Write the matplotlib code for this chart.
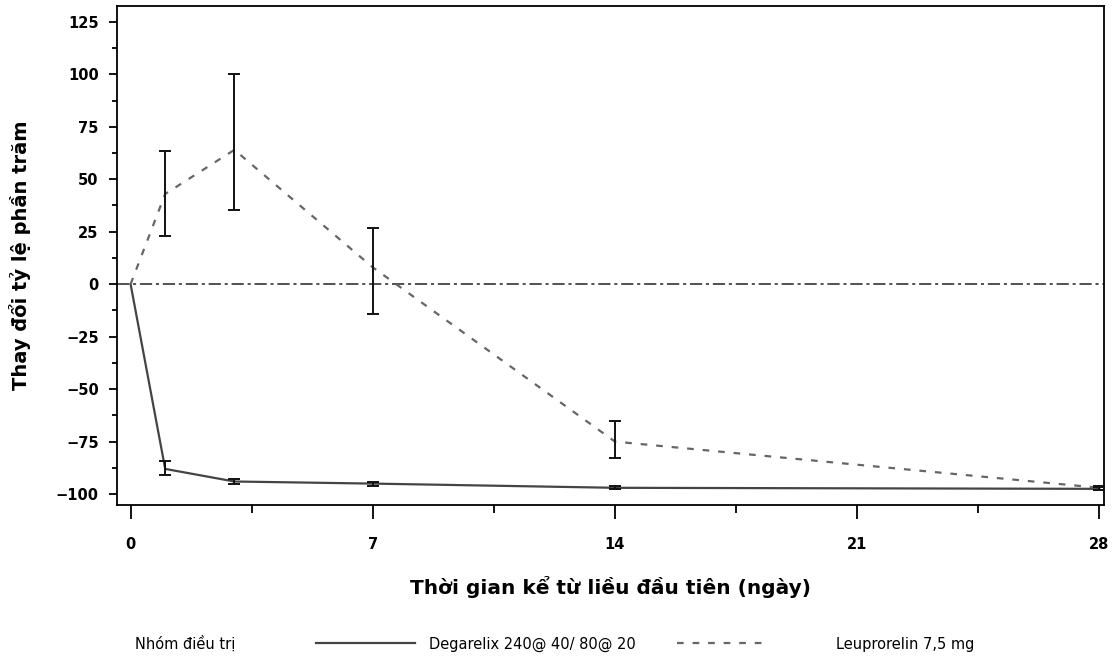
import matplotlib
matplotlib.use('Agg')
import matplotlib.pyplot as plt
from matplotlib.ticker import MultipleLocator

# so ngay ke tu lieu dau tien
days = [0, 1, 3, 7, 14, 28]

# Degarelix 240@40/80@20
dega_mean = [0, -88, -94, -95, -97, -97.5]
dega_low = [0, -91, -95, -96, -97.8, -98.2]
dega_high = [0, -84, -93, -94, -96.3, -96.8]

# Leuprorelin 7,5 mg
leup_mean = [0, 43, 64, 8, -75, -97]
leup_low = [0, 23, 35.5, -14, -83, -98]
leup_high = [0, 63.5, 100, 27, -65, -96]

x_ticks = [0, 7, 14, 21, 28]
y_ticks = [-100, -75, -50, -25, 0, 25, 50, 75, 100, 125]

legend_title = 'Nhóm điều trị'
dega_label = 'Degarelix 240@ 40/ 80@ 20'
leup_label = 'Leuprorelin 7,5 mg'

plt.rcParams['font.family'] = ['DejaVu Sans']

fig = plt.figure(figsize=(11.12, 6.58), dpi=100)
ax = fig.add_axes([0.105, 0.2325, 0.888, 0.758])


def err(mean, low, high):
    return [[m - l for m, l in zip(mean, low)], [h - m for m, h in zip(mean, high)]]


# duong tham chieu 0
ax.axhline(0, color='#222222', lw=1.1, dashes=[8, 2.5, 2, 2.5], zorder=1)

ax.errorbar(days[1:], dega_mean[1:], yerr=err(dega_mean[1:], dega_low[1:], dega_high[1:]),
            fmt='none', ecolor='#111111', elinewidth=1.4, capsize=4, capthick=1.4, zorder=3)
ax.errorbar(days[1:], leup_mean[1:], yerr=err(leup_mean[1:], leup_low[1:], leup_high[1:]),
            fmt='none', ecolor='#111111', elinewidth=1.4, capsize=4, capthick=1.4, zorder=3)

dega_line, = ax.plot(days, dega_mean, '-', color='#444444', lw=1.6, zorder=2)
leup_line, = ax.plot(days, leup_mean, color='#666666', lw=1.6, dashes=[3, 4], zorder=2)

ax.set_xlim(-0.4, 28.14)
ax.set_ylim(-105.2, 132.4)
ax.set_xticks(x_ticks)
ax.set_yticks(y_ticks)
ax.xaxis.set_minor_locator(MultipleLocator(3.5))
ax.yaxis.set_minor_locator(MultipleLocator(12.5))
ax.tick_params(which='both', direction='out', width=1.3, labelsize=10.5)
ax.tick_params(axis='x', which='major', length=10, pad=13)
ax.tick_params(axis='x', which='minor', length=6)
ax.tick_params(axis='y', which='major', length=6, pad=7)
ax.tick_params(axis='y', which='minor', length=3.5)
for lab in ax.get_xticklabels() + ax.get_yticklabels():
    lab.set_fontweight('bold')
for sp in ax.spines.values():
    sp.set_linewidth(1.3)

ax.set_ylabel('Thay đổi tỷ lệ phần trăm', fontsize=14, fontweight='bold', labelpad=18)
ax.set_xlabel('Thời gian kể từ liều đầu tiên (ngày)', fontsize=14.5, fontweight='bold', labelpad=17)

# chu giai o duoi
ly = 1 - 644 / 658
fig.text(135 / 1112, ly, legend_title, fontsize=10.5, va='center', ha='left')
fig.legend([dega_line], [dega_label], loc='center left', bbox_to_anchor=(316 / 1112, ly),
           frameon=False, fontsize=10.5, borderpad=0, borderaxespad=0,
           handlelength=6.8, handletextpad=0.95)
fig.legend([leup_line], [leup_label], loc='center left', bbox_to_anchor=(677 / 1112, ly),
           frameon=False, fontsize=10.5, borderpad=0, borderaxespad=0,
           handlelength=6.4, handletextpad=4.5)

fig.savefig('out.png', dpi=100)
